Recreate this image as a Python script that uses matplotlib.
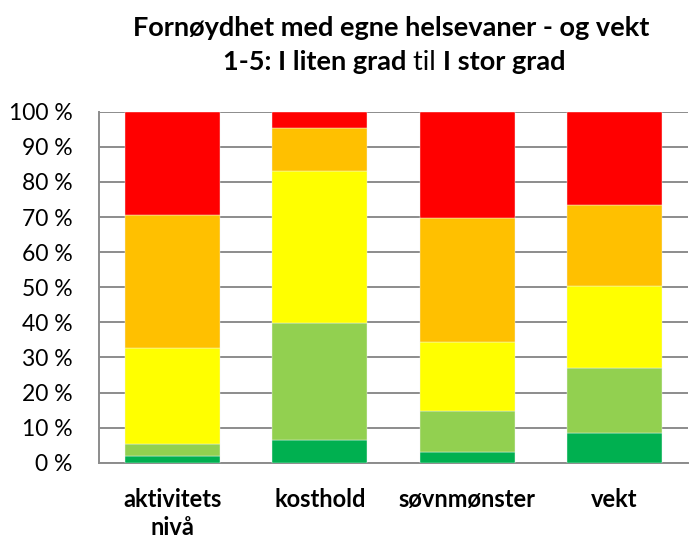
import matplotlib
matplotlib.use("Agg")
import matplotlib.pyplot as plt
import numpy as np

categories = ["aktivitets\nnivå", "kosthold", "søvnmønster", "vekt"]
series_names = ["1", "2", "3", "4", "5"]
s1 = [2.0, 6.5, 3.1, 8.5]
s2 = [3.3, 33.4, 11.7, 18.6]
s3 = [27.5, 43.3, 19.7, 23.2]
s4 = [37.8, 12.2, 35.1, 23.1]
s5 = [29.4, 4.6, 30.4, 26.6]
colors = ["#00B050", "#92D050", "#FFFF00", "#FFC000", "#FF0000"]
yticks = [0, 10, 20, 30, 40, 50, 60, 70, 80, 90, 100]
ytick_labels = [f"{v} %" for v in yticks]

plt.rcParams['font.family'] = ['Lato', 'DejaVu Sans']

fig = plt.figure(figsize=(6.9, 5.39), dpi=100)
ax = fig.add_axes([99/690, (539-462.7)/539, 589/690, 351/539])

x = np.arange(len(categories))
bottom = np.zeros(len(categories))
for vals, c, n in zip([s1, s2, s3, s4, s5], colors, series_names):
    ax.bar(x, vals, bottom=bottom, width=0.645, color=c, label=n, zorder=3,
           edgecolor="#f4f4f4", linewidth=0.3)
    bottom += np.array(vals)

ax.set_xlim(-0.5, len(categories) - 0.5)
ax.set_ylim(0, 100)
ax.set_yticks(yticks)
ax.set_yticklabels(ytick_labels, fontsize=16.5)
ax.set_xticks(x)
ax.set_xticklabels(categories, fontsize=17, fontweight="bold", linespacing=1.3)
ax.tick_params(axis="both", length=0)
ax.tick_params(axis="y", pad=19)
ax.tick_params(axis="x", pad=18)
ax.yaxis.grid(True, color="#8c8c8c", linewidth=1.4, zorder=0)
for sp in ["top", "right"]:
    ax.spines[sp].set_visible(False)
for sp in ["bottom", "left"]:
    ax.spines[sp].set_color("#8c8c8c")
    ax.spines[sp].set_linewidth(1.4)

# Title
fig.text(391/690, 1 - 28/539, "Fornøydhet med egne helsevaner - og vekt",
         ha="center", va="center", fontsize=19.5, fontweight="bold")
parts = [("1-5: I liten grad", "bold"), (" til ", "normal"), ("I stor grad", "bold")]
fig.canvas.draw()
r = fig.canvas.get_renderer()
texts = []
for s, w in parts:
    t = fig.text(0, 1 - 62/539, s, ha="left", va="center", fontsize=19.5, fontweight=w)
    texts.append(t)
widths = [t.get_window_extent(renderer=r).width for t in texts]
total = sum(widths)
start = 394 - total / 2
for t, w in zip(texts, widths):
    t.set_x(start / 690)
    start += w

fig.savefig("out.png", dpi=100)
